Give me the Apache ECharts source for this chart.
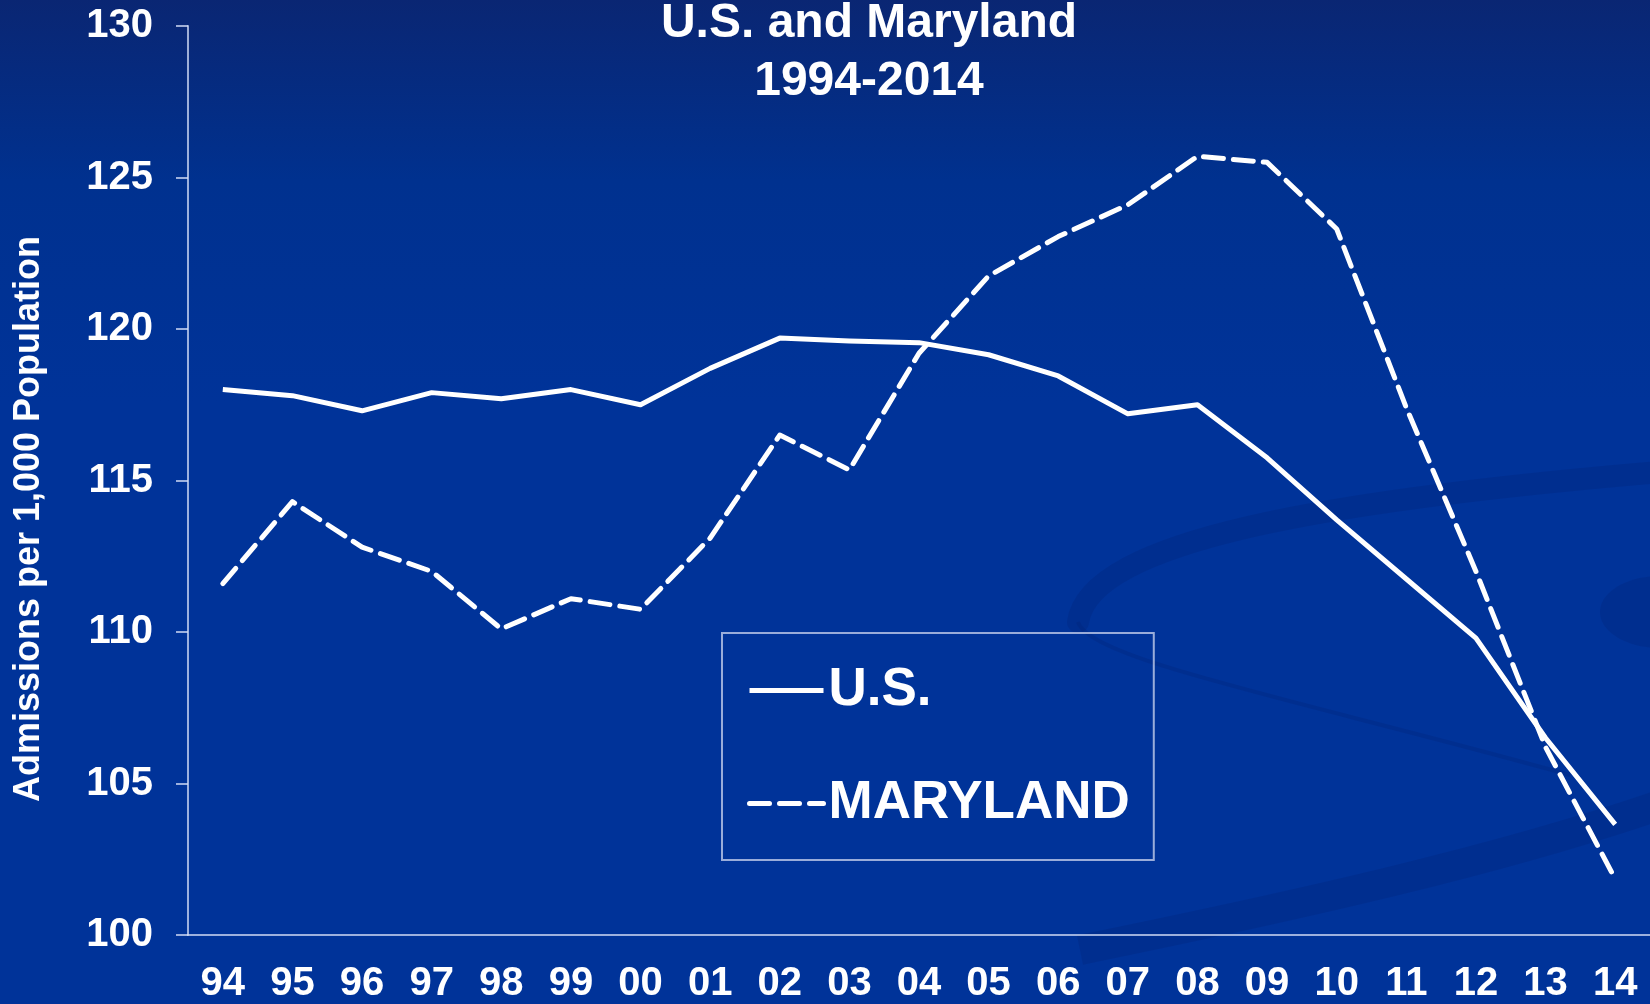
<!DOCTYPE html>
<html>
<head>
<meta charset="utf-8">
<script src="https://cdn.jsdelivr.net/npm/echarts@6/dist/echarts.min.js"></script>
<style>
  html, body { margin: 0; padding: 0; background: #003399; }
  #main { width: 1650px; height: 1004px; }
</style>
</head>
<body>
<div id="main"></div>
<script>
var years = ['94', '95', '96', '97', '98', '99', '00', '01', '02', '03', '04',
  '05', '06', '07', '08', '09', '10', '11', '12', '13', '14'];
var usData = [118.0, 117.8, 117.3, 117.9, 117.7, 118.0, 117.5, 118.7, 119.7, 119.6, 119.55,
  119.15, 118.45, 117.2, 117.5, 115.75, 113.7, 111.75, 109.8, 106.5, 103.65];
var mdData = [111.6, 114.3, 112.8, 112.0, 110.1, 111.1, 110.75, 113.1, 116.5, 115.35, 119.2,
  121.75, 123.05, 124.1, 125.7, 125.5, 123.3, 117.4, 112.0, 106.2, 101.85];
var seriesNames = ['U.S.', 'MARYLAND'];

var myChart = echarts.init(document.getElementById('main'));
var font = 'Liberation Sans, Arial, sans-serif';
var axisColor = 'rgba(210,220,245,0.75)';
var swoosh = 'rgba(0,28,105,0.2)';

var option = {
  animation: false,
  backgroundColor: new echarts.graphic.LinearGradient(0, 0, 0, 1, [
    { offset: 0, color: '#0a2673' },
    { offset: 0.18, color: '#00318f' },
    { offset: 0.4, color: '#003399' },
    { offset: 1, color: '#003399' }
  ]),
  title: {
    text: 'U.S. and Maryland\n1994-2014',
    left: 869,
    textAlign: 'center',
    top: -5,
    padding: 0,
    textStyle: {
      color: '#ffffff',
      fontFamily: font,
      fontWeight: 'bold',
      fontSize: 48,
      lineHeight: 58
    }
  },
  graphic: [
    // background swooshes, lower right
    {
      type: 'bezierCurve', z: -1, silent: true,
      shape: { x1: 1078, y1: 622, cpx1: 1090, cpy1: 540, cpx2: 1330, cpy2: 500, x2: 1660, y2: 472 },
      style: { stroke: swoosh, lineWidth: 22, fill: null, lineCap: 'round' }
    },
    {
      type: 'bezierCurve', z: -1, silent: true,
      shape: { x1: 1078, y1: 622, cpx1: 1090, cpy1: 660, cpx2: 1300, cpy2: 700, x2: 1570, y2: 775 },
      style: { stroke: swoosh, lineWidth: 4, fill: null }
    },
    {
      type: 'bezierCurve', z: -1, silent: true,
      shape: { x1: 1080, y1: 950, cpx1: 1300, cpy1: 905, cpx2: 1500, cpy2: 860, x2: 1660, y2: 805 },
      style: { stroke: swoosh, lineWidth: 30, fill: null }
    },
    {
      type: 'ellipse', z: -1, silent: true,
      shape: { cx: 1660, cy: 612, rx: 60, ry: 36 },
      style: { fill: swoosh }
    },
    {
      type: 'text',
      x: 29,
      y: 519,
      rotation: Math.PI / 2,
      style: {
        text: 'Admissions per 1,000 Population',
        fill: '#ffffff',
        font: 'bold 36px ' + font,
        align: 'center',
        verticalAlign: 'middle'
      }
    }
  ],
  legend: {
    data: seriesNames,
    orient: 'vertical',
    left: 722,
    top: 633,
    padding: [31, 24, 30, 25],
    itemGap: 60,
    itemWidth: 74,
    itemHeight: 14,
    borderColor: 'rgba(220,225,245,0.7)',
    borderWidth: 2,
    itemStyle: { opacity: 0 },
    lineStyle: { width: 5 },
    textStyle: {
      color: '#ffffff',
      fontFamily: font,
      fontWeight: 'bold',
      fontSize: 53,
      lineHeight: 52
    }
  },
  grid: {
    left: 188,
    top: 26,
    right: -7,
    bottom: 68,
    containLabel: false
  },
  xAxis: {
    type: 'category',
    data: years,
    boundaryGap: true,
    axisLine: { lineStyle: { color: axisColor, width: 2 } },
    axisTick: { length: 13, lineStyle: { color: axisColor, width: 2 } },
    axisLabel: {
      color: '#ffffff',
      fontFamily: font,
      fontWeight: 'bold',
      fontSize: 40,
      margin: 29,
      interval: 0
    }
  },
  yAxis: {
    type: 'value',
    min: 100,
    max: 130,
    interval: 5,
    splitLine: { show: false },
    axisLine: { show: true, lineStyle: { color: axisColor, width: 2 } },
    axisTick: { show: true, length: 12, lineStyle: { color: axisColor, width: 2 } },
    axisLabel: {
      color: '#ffffff',
      fontFamily: font,
      fontWeight: 'bold',
      fontSize: 40,
      margin: 35
    }
  },
  series: [
    {
      name: seriesNames[0],
      type: 'line',
      data: usData,
      symbol: 'none',
      itemStyle: { color: '#ffffff' },
      lineStyle: { color: '#ffffff', width: 5, join: 'round' }
    },
    {
      name: seriesNames[1],
      type: 'line',
      data: mdData,
      symbol: 'none',
      itemStyle: { color: '#ffffff' },
      lineStyle: { color: '#ffffff', width: 5, type: [20, 10], cap: 'round', join: 'round' }
    }
  ]
};
myChart.setOption(option);
window.addEventListener('resize', function () {
  myChart.resize();
});
</script>
</body>
</html>
